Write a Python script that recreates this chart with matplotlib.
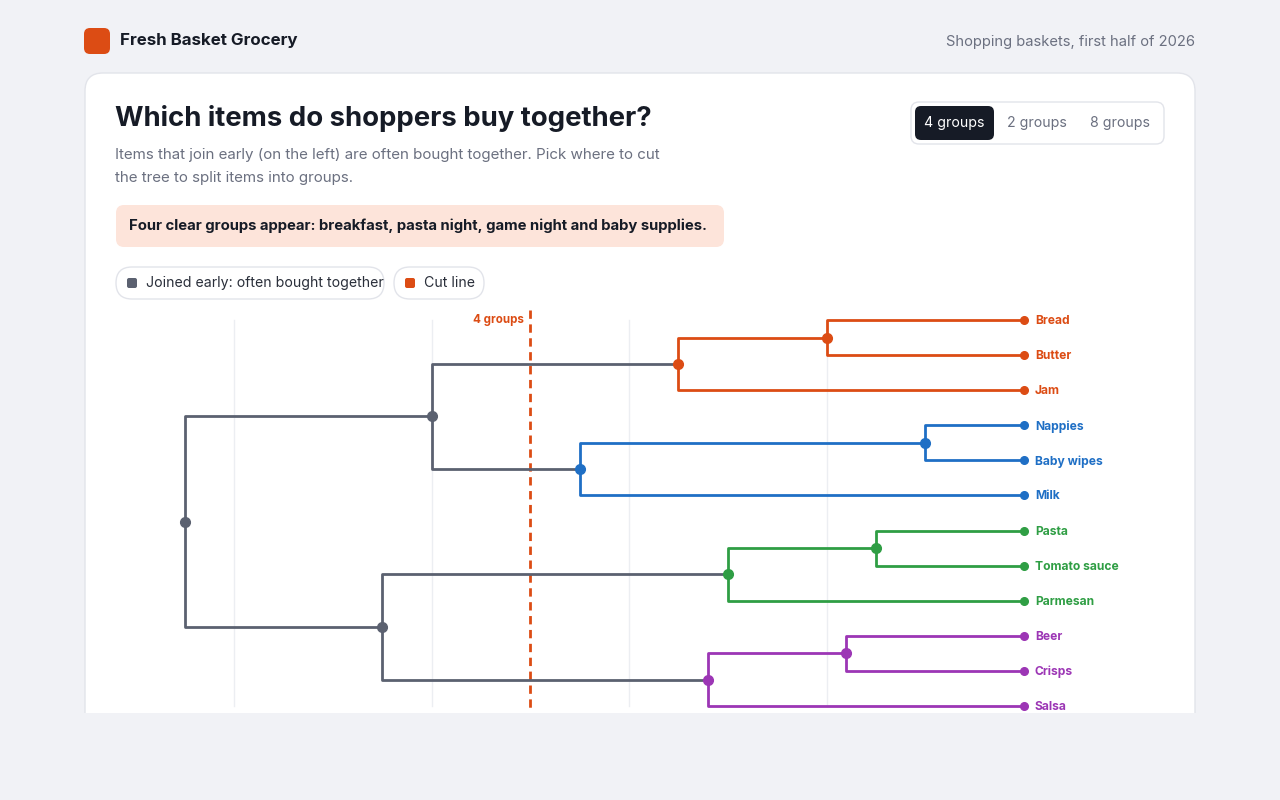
import matplotlib
matplotlib.use("Agg")
import matplotlib.pyplot as plt
from matplotlib.patches import FancyBboxPatch, Rectangle

plt.rcParams['font.family'] = ['Inter', 'DejaVu Sans']

leaves = ["Bread", "Butter", "Jam", "Nappies", "Baby wipes", "Milk",
          "Pasta", "Tomato sauce", "Parmesan", "Beer", "Crisps", "Salsa"]
leaf_groups = [0, 0, 0, 1, 1, 1, 2, 2, 2, 3, 3, 3]
group_colors = ["#dc4c14", "#1f6fc5", "#2f9e44", "#9c36b5"]
gray = "#5b6170"
# merges: (left, right, height); ids >= 12 are earlier merges
merges = [(0, 1, 1.0), (12, 2, 1.75), (3, 4, 0.5), (14, 5, 2.25),
          (13, 15, 3.0), (6, 7, 0.75), (17, 8, 1.5), (9, 10, 0.9),
          (19, 11, 1.6), (18, 20, 3.25), (16, 21, 4.25)]
cut_height = 2.5
cut_label = "4 groups"

fig = plt.figure(figsize=(12.8, 8), dpi=100)
fig.patch.set_facecolor("#f1f2f6")
bg = fig.add_axes([0, 0, 1, 1])
bg.set_xlim(0, 1280); bg.set_ylim(800, 0); bg.axis("off")

bg.add_patch(FancyBboxPatch((85, 73), 1110, 700, boxstyle="round,pad=0,rounding_size=18",
                            fc="white", ec="#e2e4ea", lw=1))
bg.add_patch(Rectangle((0, 713), 1280, 90, fc="#f1f2f6", ec="none", zorder=3))
bg.add_patch(FancyBboxPatch((84, 28), 26, 26, boxstyle="round,pad=0,rounding_size=6",
                            fc="#dc4c14", ec="none"))
bg.text(120, 41, "Fresh Basket Grocery", fontsize=12.2, fontweight="bold", color="#161b26", va="center")
bg.text(1195, 42, "Shopping baskets, first half of 2026", fontsize=10.6, color="#6b7080", va="center", ha="right")
bg.text(115, 119, "Which items do shoppers buy together?", fontsize=19.8, fontweight="bold", color="#161b26", va="center")
bg.text(115, 155, "Items that join early (on the left) are often bought together. Pick where to cut",
        fontsize=10.9, color="#6b7080", va="center")
bg.text(115, 178, "the tree to split items into groups.", fontsize=10.9, color="#6b7080", va="center")
bg.add_patch(FancyBboxPatch((116, 205), 608, 42, boxstyle="round,pad=0,rounding_size=8",
                            fc="#fde4da", ec="none"))
bg.text(129, 226, "Four clear groups appear: breakfast, pasta night, game night and baby supplies.",
        fontsize=10.7, fontweight="bold", color="#161b26", va="center")
# toggle
bg.add_patch(FancyBboxPatch((911, 102), 253, 42, boxstyle="round,pad=0,rounding_size=8",
                            fc="white", ec="#e2e4ea", lw=1))
bg.add_patch(FancyBboxPatch((915, 106), 79, 34, boxstyle="round,pad=0,rounding_size=6",
                            fc="#161b26", ec="none"))
bg.text(954, 123, "4 groups", fontsize=10.2, color="white", ha="center", va="center")
bg.text(1037, 123, "2 groups", fontsize=10.2, color="#6b7080", ha="center", va="center")
bg.text(1120, 123, "8 groups", fontsize=10.2, color="#6b7080", ha="center", va="center")
# legend pills
for x0, w, col, txt in [(116, 268, gray, "Joined early: often bought together"),
                        (394, 90, "#dc4c14", "Cut line")]:
    bg.add_patch(FancyBboxPatch((x0, 267), w, 32, boxstyle="round,pad=0,rounding_size=16",
                                fc="white", ec="#e2e4ea", lw=1))
    bg.add_patch(FancyBboxPatch((x0 + 11, 278), 10, 10, boxstyle="round,pad=0,rounding_size=2",
                                fc=col, ec="none"))
    bg.text(x0 + 30, 283, txt, fontsize=10.2, color="#2a2f3a", va="center")

# dendrogram axes: px 120..1024 horizontally, 310..713 vertically
ax = fig.add_axes([120 / 1280, 1 - 713 / 800, (1024 - 120) / 1280, (713 - 310) / 800])
ax.set_zorder(2)
ax.patch.set_alpha(0)
ax.set_xlim((1024 - 120) / 197.5, 0)
ax.set_ylim(11.2, -0.285)
for s in ax.spines.values():
    s.set_visible(False)
ax.set_xticks([]); ax.set_yticks([])
for g in [1, 2, 3, 4]:
    ax.plot([g, g], [0, 11], color="#eceef2", lw=1, zorder=0)

n = len(leaves)
pos = {i: (0.0, float(i)) for i in range(n)}
grp = {i: leaf_groups[i] for i in range(n)}
for k, (a, b, h) in enumerate(merges):
    nid = n + k
    ya, yb = pos[a][1], pos[b][1]
    g = grp[a] if grp[a] == grp[b] else None
    col = group_colors[g] if g is not None else gray
    ax.plot([pos[a][0], h, h, pos[b][0]], [ya, ya, yb, yb], color=col, lw=2, zorder=2)
    y = (ya + yb) / 2
    ax.plot(h, y, "o", color=col, ms=7, zorder=3)
    pos[nid] = (h, y)
    grp[nid] = g

for i, name in enumerate(leaves):
    col = group_colors[leaf_groups[i]]
    ax.plot(0, i, "o", color=col, ms=5.5, zorder=3, clip_on=False)
    ax.text(-0.055, i + 0.03, name, color=col, fontsize=8.7, fontweight="bold", va="center", ha="left")

ax.plot([cut_height, cut_height], [-0.285, 11.2], color="#dc4c14", lw=2, ls=(0, (3, 2)), zorder=1)
ax.text(cut_height + 0.03, 0, cut_label, color="#dc4c14", fontsize=8.3, fontweight="bold",
        ha="right", va="center")

fig.savefig("out.png", dpi=100, facecolor=fig.get_facecolor())
